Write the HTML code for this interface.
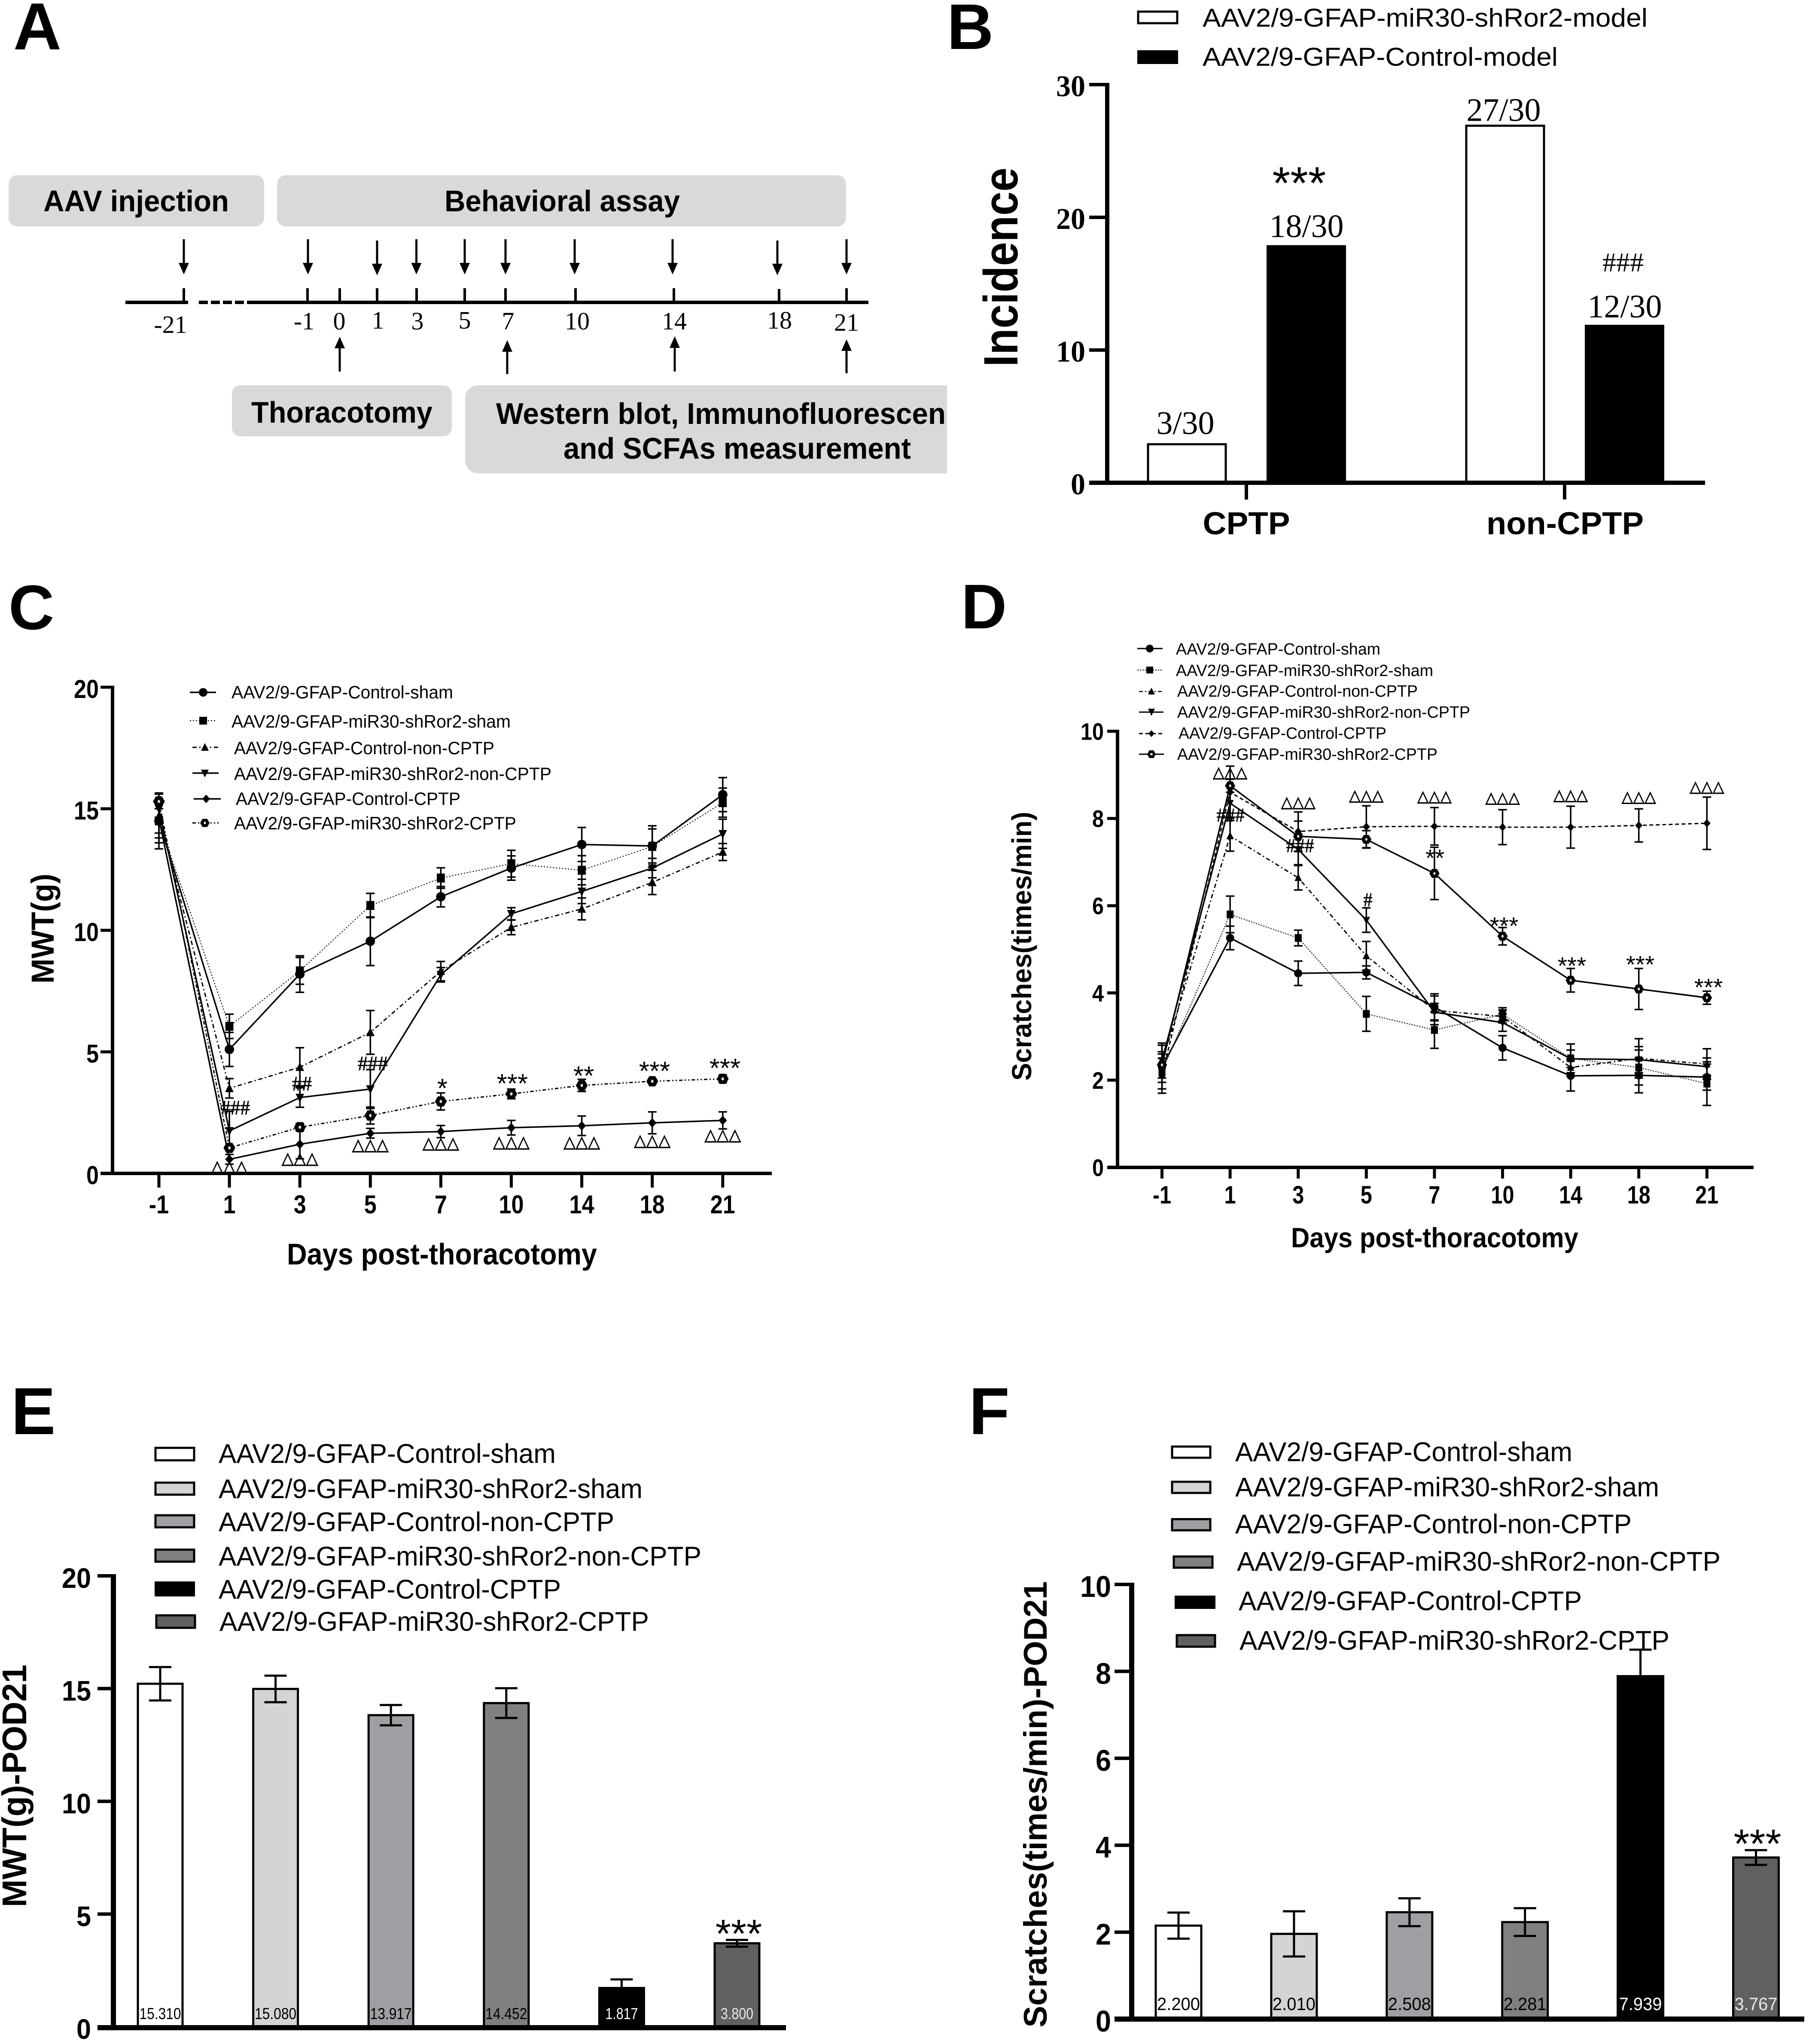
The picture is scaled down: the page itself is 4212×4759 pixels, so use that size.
<!DOCTYPE html>
<html lang="en">
<head>
<meta charset="utf-8">
<title>AAV2/9-GFAP-miR30-shRor2 behavioural figure</title>
<style>
html,body{margin:0;padding:0;background:#fff}
svg{display:block}
.s{font-family:"Liberation Sans",sans-serif;fill:#000}
.b{font-family:"Liberation Sans",sans-serif;font-weight:700;fill:#000}
.t{font-family:"Liberation Serif",serif;fill:#000}
.h{font-family:"Liberation Serif",serif;fill:#000;stroke:#000;stroke-width:.8}
.tb{font-family:"Liberation Serif",serif;font-weight:700;fill:#000}
.tri{font-family:"Noto Sans CJK SC","Liberation Sans",sans-serif;fill:#000;stroke:#000;stroke-width:2}
</style>
</head>
<body>
<svg id="figure" xmlns="http://www.w3.org/2000/svg" width="4212" height="4759" viewBox="0 0 4212 4759">
<rect width="4212" height="4759" fill="#fff"/>

<!-- panel letters -->
<text class="b" x="31" y="115" font-size="155">A</text>
<text class="b" x="2205" y="114" font-size="150">B</text>
<text class="b" x="20" y="1465" font-size="147">C</text>
<text class="b" x="2238" y="1463" font-size="147">D</text>
<text class="b" x="26" y="3339" font-size="155">E</text>
<text class="b" x="2256" y="3339" font-size="155">F</text>

<!-- panel A timeline -->
<g>
<defs><clipPath id="clipA"><rect x="0" y="0" width="2205" height="1200"/></clipPath></defs>
<rect x="20" y="408" width="595" height="119" rx="20" fill="#d9d9d9"/>
<text class="b" x="101" y="492" font-size="70" textLength="432" lengthAdjust="spacingAndGlyphs">AAV injection</text>
<rect x="645" y="408" width="1325" height="119" rx="20" fill="#d9d9d9"/>
<text class="b" x="1035" y="492" font-size="70" textLength="548" lengthAdjust="spacingAndGlyphs">Behavioral assay</text>
<rect x="540" y="897" width="512" height="119" rx="20" fill="#d9d9d9"/>
<text class="b" x="585" y="984" font-size="70" textLength="422" lengthAdjust="spacingAndGlyphs">Thoracotomy</text>
<g clip-path="url(#clipA)">
<rect x="1083" y="897" width="1300" height="205" rx="30" fill="#d9d9d9"/>
<text class="b" x="1155" y="987" font-size="70" textLength="1047" lengthAdjust="spacingAndGlyphs">Western blot, Immunofluorescen</text>
<text class="b" x="1312" y="1068" font-size="70" textLength="809" lengthAdjust="spacingAndGlyphs">and SCFAs measurement</text>
</g>
<path d="M292 704H438M575 704H2022" stroke="#000" stroke-width="8" fill="none"/>
<path d="M463 704H568" stroke="#000" stroke-width="8" stroke-dasharray="21 7" fill="none"/>
<path d="M428 671V700M716 671V700M791 671V700M878 671V700M970 671V700M1082 671V700M1177 671V700M1340 671V700M1569 671V700M1814 673V700M1971 671V700" stroke="#000" stroke-width="6" fill="none"/>
<g font-size="58" text-anchor="middle">
<text class="t" x="397" y="775">-21</text>
<text class="t" x="708" y="767">-1</text>
<text class="t" x="790" y="767">0</text>
<text class="t" x="880" y="765">1</text>
<text class="t" x="972" y="767">3</text>
<text class="t" x="1082" y="765">5</text>
<text class="t" x="1183" y="767">7</text>
<text class="t" x="1344" y="767">10</text>
<text class="t" x="1570" y="767">14</text>
<text class="t" x="1815" y="765">18</text>
<text class="t" x="1971" y="770">21</text>
</g>
<g fill="#000">
<path d="M425.5 557h5v55h9.5l-12 27-12-27h9.5z"/>
<path d="M714.5 557h5v55h9.5l-12 27-12-27h9.5z"/>
<path d="M875.5 560h5v54h9.5l-12 27-12-27h9.5z"/>
<path d="M967 557h5v55h9.5l-12 27-12-27h9.5z"/>
<path d="M1079.5 557h5v55h9.5l-12 27-12-27h9.5z"/>
<path d="M1174.5 557h5v55h9.5l-12 27-12-27h9.5z"/>
<path d="M1335.5 557h5v55h9.5l-12 27-12-27h9.5z"/>
<path d="M1563.5 557h5v55h9.5l-12 27-12-27h9.5z"/>
<path d="M1807.5 560h5v54h9.5l-12 27-12-27h9.5z"/>
<path d="M1968.5 557h5v55h9.5l-12 27-12-27h9.5z"/>
<path d="M788.5 865h5v-54h9.5l-12-27-12 27h9.5z"/>
<path d="M1178.5 871h5v-52h9.5l-12-27-12 27h9.5z"/>
<path d="M1568.5 865h5v-55h9.5l-12-27-12 27h9.5z"/>
<path d="M1968.5 869h5v-52h9.5l-12-27-12 27h9.5z"/>
</g>
</g>

<!-- panel B static -->
<g>
<rect x="2650" y="27" width="91" height="27" fill="#fff" stroke="#000" stroke-width="5"/>
<text class="s" x="2800" y="62" font-size="60" textLength="1036" lengthAdjust="spacingAndGlyphs">AAV2/9-GFAP-miR30-shRor2-model</text>
<rect x="2648" y="117" width="95" height="32" fill="#000"/>
<text class="s" x="2800" y="153" font-size="60" textLength="827" lengthAdjust="spacingAndGlyphs">AAV2/9-GFAP-Control-model</text>
</g>
<text class="b" transform="translate(2369,622) rotate(-90)" text-anchor="middle" font-size="112" textLength="464" lengthAdjust="spacingAndGlyphs">Incidence</text>
<text class="s" x="3025" y="463" text-anchor="middle" font-size="107">***</text>
<text class="t" x="3779" y="632" text-anchor="middle" font-size="64">###</text>
<g id="chartB"></g>

<!-- panel C static -->
<g fill="#000">
<line x1="442" x2="503" y1="1612" y2="1612" stroke="#000" stroke-width="3.5"/>
<circle cx="473" cy="1612" r="10"/>
<text class="s" x="539" y="1626" font-size="42" textLength="516" lengthAdjust="spacingAndGlyphs">AAV2/9-GFAP-Control-sham</text>
<line x1="442" x2="503" y1="1678" y2="1678" stroke="#000" stroke-width="2" stroke-dasharray="3 4"/>
<rect x="464" y="1669" width="18" height="18"/>
<text class="s" x="539" y="1694" font-size="42" textLength="650" lengthAdjust="spacingAndGlyphs">AAV2/9-GFAP-miR30-shRor2-sham</text>
<line x1="448" x2="509" y1="1740" y2="1740" stroke="#000" stroke-width="3" stroke-dasharray="10 6 3 6"/>
<polygon points="477,1730 486,1748 468,1748"/>
<text class="s" x="545" y="1756" font-size="42" textLength="606" lengthAdjust="spacingAndGlyphs">AAV2/9-GFAP-Control-non-CPTP</text>
<line x1="448" x2="509" y1="1800" y2="1800" stroke="#000" stroke-width="3.5"/>
<polygon points="477,1810 468,1792 486,1792"/>
<text class="s" x="545" y="1816" font-size="42" textLength="739" lengthAdjust="spacingAndGlyphs">AAV2/9-GFAP-miR30-shRor2-non-CPTP</text>
<line x1="451" x2="514" y1="1860" y2="1860" stroke="#000" stroke-width="3.5"/>
<polygon points="480,1850 489,1860 480,1870 471,1860"/>
<text class="s" x="549" y="1874" font-size="42" textLength="523" lengthAdjust="spacingAndGlyphs">AAV2/9-GFAP-Control-CPTP</text>
<line x1="448" x2="509" y1="1916" y2="1916" stroke="#000" stroke-width="3" stroke-dasharray="8 5 3 5 3 5"/>
<polygon points="466,1916 471.5,1906.5 482.5,1906.5 488,1916 482.5,1925.5 471.5,1925.5"/>
<ellipse cx="477" cy="1916" rx="2.5" ry="3" fill="#fff"/>
<text class="s" x="545" y="1931" font-size="42" textLength="657" lengthAdjust="spacingAndGlyphs">AAV2/9-GFAP-miR30-shRor2-CPTP</text>
</g>
<text class="b" transform="translate(125,2162) rotate(-90)" text-anchor="middle" font-size="74" textLength="256" lengthAdjust="spacingAndGlyphs">MWT(g)</text>
<text class="b" x="668" y="2944" font-size="70" textLength="722" lengthAdjust="spacingAndGlyphs">Days post-thoracotomy</text>
<g id="chartC"></g>
<g text-anchor="middle">
<text class="h" x="548" y="2595" font-size="48" textLength="68" lengthAdjust="spacingAndGlyphs">###</text>
<text class="h" x="703" y="2539" font-size="48" textLength="46" lengthAdjust="spacingAndGlyphs">##</text>
<text class="h" x="868" y="2492" font-size="48" textLength="70" lengthAdjust="spacingAndGlyphs">###</text>
<text class="s" x="1030" y="2555" font-size="62">*</text>
<text class="s" x="1193" y="2544" font-size="62">***</text>
<text class="s" x="1359" y="2526" font-size="62">**</text>
<text class="s" x="1524" y="2515" font-size="62">***</text>
<text class="s" x="1688" y="2508" font-size="62">***</text>
</g>

<!-- panel D static -->
<g fill="#000">
<line x1="2648" x2="2707" y1="1510" y2="1510" stroke="#000" stroke-width="3"/>
<circle cx="2677" cy="1510" r="9"/>
<text class="s" x="2738" y="1524" font-size="38" textLength="476" lengthAdjust="spacingAndGlyphs">AAV2/9-GFAP-Control-sham</text>
<line x1="2648" x2="2707" y1="1560" y2="1560" stroke="#333" stroke-width="2.5" stroke-dasharray="3 3"/>
<rect x="2669" y="1552" width="16" height="16"/>
<text class="s" x="2738" y="1574" font-size="38" textLength="599" lengthAdjust="spacingAndGlyphs">AAV2/9-GFAP-miR30-shRor2-sham</text>
<line x1="2652" x2="2709" y1="1610" y2="1610" stroke="#000" stroke-width="2.5" stroke-dasharray="9 5 3 5"/>
<polygon points="2681,1601 2689,1617 2673,1617"/>
<text class="s" x="2741" y="1622" font-size="38" textLength="560" lengthAdjust="spacingAndGlyphs">AAV2/9-GFAP-Control-non-CPTP</text>
<line x1="2652" x2="2709" y1="1658" y2="1658" stroke="#000" stroke-width="3"/>
<polygon points="2681,1667 2673,1650 2689,1650"/>
<text class="s" x="2741" y="1671" font-size="38" textLength="682" lengthAdjust="spacingAndGlyphs">AAV2/9-GFAP-miR30-shRor2-non-CPTP</text>
<line x1="2652" x2="2711" y1="1708" y2="1708" stroke="#000" stroke-width="3" stroke-dasharray="9 6"/>
<polygon points="2681,1700 2688,1708 2681,1716 2674,1708"/>
<text class="s" x="2744" y="1720" font-size="38" textLength="484" lengthAdjust="spacingAndGlyphs">AAV2/9-GFAP-Control-CPTP</text>
<line x1="2652" x2="2710" y1="1756" y2="1756" stroke="#000" stroke-width="3"/>
<polygon points="2671,1756 2676,1747 2686,1747 2691,1756 2686,1765 2676,1765"/>
<ellipse cx="2681" cy="1756" rx="3" ry="2.5" fill="#fff"/>
<text class="s" x="2741" y="1769" font-size="38" textLength="606" lengthAdjust="spacingAndGlyphs">AAV2/9-GFAP-miR30-shRor2-CPTP</text>
</g>
<text class="b" transform="translate(2401,2203) rotate(-90)" text-anchor="middle" font-size="64" textLength="626" lengthAdjust="spacingAndGlyphs">Scratches(times/min)</text>
<text class="b" x="3006" y="2904" font-size="65" textLength="669" lengthAdjust="spacingAndGlyphs">Days post-thoracotomy</text>
<g id="chartD"></g>
<g text-anchor="middle">
<text class="h" x="2865" y="1913" font-size="46" textLength="65" lengthAdjust="spacingAndGlyphs">###</text>
<text class="h" x="3027" y="1984" font-size="46" textLength="65" lengthAdjust="spacingAndGlyphs">###</text>
<text class="h" x="3185" y="2110" font-size="46" textLength="21" lengthAdjust="spacingAndGlyphs">#</text>
<text class="s" x="3341" y="2017" font-size="57">**</text>
<text class="s" x="3502" y="2175" font-size="57">***</text>
<text class="s" x="3660" y="2268" font-size="57">***</text>
<text class="s" x="3819" y="2265" font-size="57">***</text>
<text class="s" x="3978" y="2318" font-size="57">***</text>
</g>

<!-- panel E static -->
<g>
<rect x="362" y="3371" width="90" height="29" fill="#fff" stroke="#000" stroke-width="5"/>
<rect x="362" y="3452" width="90" height="28" fill="#d4d4d4" stroke="#000" stroke-width="5"/>
<rect x="362" y="3528" width="90" height="28" fill="#a0a0a4" stroke="#000" stroke-width="5"/>
<rect x="362" y="3608" width="90" height="28" fill="#808080" stroke="#000" stroke-width="5"/>
<rect x="360" y="3682" width="94" height="35" fill="#000"/>
<rect x="364" y="3761" width="90" height="29" fill="#606060" stroke="#000" stroke-width="5"/>
<text class="s" x="509" y="3406" font-size="63" textLength="785" lengthAdjust="spacingAndGlyphs">AAV2/9-GFAP-Control-sham</text>
<text class="s" x="509" y="3488" font-size="63" textLength="987" lengthAdjust="spacingAndGlyphs">AAV2/9-GFAP-miR30-shRor2-sham</text>
<text class="s" x="509" y="3565" font-size="63" textLength="921" lengthAdjust="spacingAndGlyphs">AAV2/9-GFAP-Control-non-CPTP</text>
<text class="s" x="509" y="3645" font-size="63" textLength="1124" lengthAdjust="spacingAndGlyphs">AAV2/9-GFAP-miR30-shRor2-non-CPTP</text>
<text class="s" x="509" y="3722" font-size="63" textLength="797" lengthAdjust="spacingAndGlyphs">AAV2/9-GFAP-Control-CPTP</text>
<text class="s" x="511" y="3797" font-size="63" textLength="1000" lengthAdjust="spacingAndGlyphs">AAV2/9-GFAP-miR30-shRor2-CPTP</text>
</g>
<text class="b" transform="translate(61,4158) rotate(-90)" text-anchor="middle" font-size="80" textLength="565" lengthAdjust="spacingAndGlyphs">MWT(g)-POD21</text>
<g id="chartE"></g>
<text class="s" x="1720" y="4534" text-anchor="middle" font-size="93">***</text>

<!-- panel F static -->
<g>
<rect x="2729" y="3368" width="89" height="26" fill="#fff" stroke="#000" stroke-width="5"/>
<rect x="2729" y="3450" width="89" height="26" fill="#d4d4d4" stroke="#000" stroke-width="5"/>
<rect x="2729" y="3537" width="89" height="26" fill="#a0a0a4" stroke="#000" stroke-width="5"/>
<rect x="2733" y="3624" width="90" height="26" fill="#808080" stroke="#000" stroke-width="5"/>
<rect x="2735" y="3715" width="95" height="31" fill="#000"/>
<rect x="2740" y="3807" width="89" height="27" fill="#606060" stroke="#000" stroke-width="5"/>
<text class="s" x="2876" y="3402" font-size="63" textLength="785" lengthAdjust="spacingAndGlyphs">AAV2/9-GFAP-Control-sham</text>
<text class="s" x="2876" y="3484" font-size="63" textLength="987" lengthAdjust="spacingAndGlyphs">AAV2/9-GFAP-miR30-shRor2-sham</text>
<text class="s" x="2876" y="3570" font-size="63" textLength="923" lengthAdjust="spacingAndGlyphs">AAV2/9-GFAP-Control-non-CPTP</text>
<text class="s" x="2880" y="3657" font-size="63" textLength="1126" lengthAdjust="spacingAndGlyphs">AAV2/9-GFAP-miR30-shRor2-non-CPTP</text>
<text class="s" x="2884" y="3749" font-size="63" textLength="799" lengthAdjust="spacingAndGlyphs">AAV2/9-GFAP-Control-CPTP</text>
<text class="s" x="2886" y="3841" font-size="63" textLength="1001" lengthAdjust="spacingAndGlyphs">AAV2/9-GFAP-miR30-shRor2-CPTP</text>
</g>
<text class="b" transform="translate(2437,4201) rotate(-90)" text-anchor="middle" font-size="76" textLength="1039" lengthAdjust="spacingAndGlyphs">Scratches(times/min)-POD21</text>
<g id="chartF"></g>
<text class="s" x="4092" y="4325" text-anchor="middle" font-size="95">***</text>
</svg>

<script>
// ---------- data: shared categories ----------
const dayCategories = ['-1','1','3','5','7','10','14','18','21'];

// ---------- data: panel B ----------
const incidenceGroups = ['CPTP','non-CPTP'];
const incidenceTicks = [0,10,20,30];
const incidenceMir30 = [3,27];
const incidenceControl = [18,12];
const incidenceTotal = 30;

// ---------- data: panel C (MWT, g) ----------
const mwtTicks = [0,5,10,15,20];
const mwtControlSham = [14.5,5.1,8.2,9.55,11.38,12.56,13.53,13.47,15.58];
const mwtControlShamErr = [1.15,.7,.75,1.0,.42,.5,.7,.7,.7];
const mwtMirSham = [14.5,6.05,8.33,11.02,12.15,12.74,12.47,13.45,15.25];
const mwtMirShamErr = [.9,.5,.55,.5,.42,.55,.6,.85,.6];
const mwtControlNon = [14.7,3.5,4.37,5.8,8.32,10.12,10.88,11.97,13.22];
const mwtControlNonErr = [.7,.4,.8,.9,.4,.3,.45,.5,.35];
const mwtMirNon = [15.0,1.75,3.12,3.47,8.17,10.68,11.6,12.56,13.97];
const mwtMirNonErr = [.35,.8,.4,.8,.3,.25,.5,.4,.6];
const mwtControlCptp = [14.6,.58,1.2,1.65,1.72,1.88,1.96,2.08,2.18];
const mwtControlCptpErr = [.8,.2,.6,.2,.25,.3,.4,.45,.35];
const mwtMirCptp = [15.3,1.05,1.9,2.38,2.96,3.27,3.62,3.79,3.89];
const mwtMirCptpErr = [.3,.1,.15,.35,.35,.2,.25,.1,.15];
const mwtTriangleLevels = [-.05,.28,.84,.91,.95,.95,1.02,1.25];

// ---------- data: panel D (scratches/min) ----------
const scrTicks = [0,2,4,6,8,10];
const scrControlSham = [2.3,5.26,4.45,4.47,3.68,2.74,2.1,2.11,2.07];
const scrControlShamErr = [.5,.27,.28,.15,.3,.28,.35,.4,.3];
const scrMirSham = [2.2,5.8,5.26,3.52,3.15,3.51,2.5,2.29,1.92];
const scrMirShamErr = [.4,.42,.18,.4,.42,.15,.33,.4,.5];
const scrControlNon = [2.4,7.6,6.64,4.85,3.6,3.46,2.29,2.5,2.37];
const scrControlNonErr = [.45,.35,.28,.33,.33,.15,.2,.45,.35];
const scrMirNon = [2.45,8.35,7.29,5.67,3.56,3.32,2.49,2.47,2.31];
const scrMirNonErr = [.4,.4,.35,.28,.2,.2,.2,.3,.2];
const scrControlCptp = [2.1,8.6,7.7,7.81,7.82,7.8,7.8,7.84,7.89];
const scrControlCptpErr = [.4,.6,.45,.48,.43,.4,.48,.38,.6];
const scrMirCptp = [2.35,8.75,7.59,7.52,6.74,5.3,4.29,4.09,3.89];
const scrMirCptpErr = [.3,.15,.35,.2,.6,.2,.27,.47,.15];
const scrTriangleLevels = [8.88,8.2,8.35,8.33,8.3,8.36,8.32,8.55];

// ---------- data: panel E ----------
const podTicksE = [0,5,10,15,20];
const podMwtValues = [15.31,15.08,13.917,14.452,1.817,3.8];
const podMwtErr = [.74,.59,.45,.66,.38,.15];

// ---------- data: panel F ----------
const podTicksF = [0,2,4,6,8,10];
const podScrValues = [2.2,2.01,2.508,2.281,7.939,3.767];
const podScrErr = [.3,.52,.32,.32,.61,.17];

// ---------- styling (kept apart from the data) ----------
const barFills = ['#fff','#d4d4d4','#a0a0a4','#808080','#000','#606060'];
const barInk = ['#000','#000','#000','#000','#fff','#e8e8e8'];
const mwtSeries = [
 {name:'control-sham',v:mwtControlSham,e:mwtControlShamErr,m:'circle',dash:'',w:3.5,c:'#000'},
 {name:'mir30-sham',v:mwtMirSham,e:mwtMirShamErr,m:'square',dash:'3 4',w:2,c:'#000'},
 {name:'control-non-cptp',v:mwtControlNon,e:mwtControlNonErr,m:'up',dash:'10 6 3 6',w:3,c:'#000'},
 {name:'mir30-non-cptp',v:mwtMirNon,e:mwtMirNonErr,m:'down',dash:'',w:3.5,c:'#000'},
 {name:'control-cptp',v:mwtControlCptp,e:mwtControlCptpErr,m:'diamond',dash:'',w:3.5,c:'#000'},
 {name:'mir30-cptp',v:mwtMirCptp,e:mwtMirCptpErr,m:'hex',dash:'8 5 3 5 3 5',w:3,c:'#000'}
];
const scrSeries = [
 {name:'control-sham',v:scrControlSham,e:scrControlShamErr,m:'circle',dash:'',w:3.5,c:'#000'},
 {name:'mir30-sham',v:scrMirSham,e:scrMirShamErr,m:'square',dash:'3 3',w:2.5,c:'#333'},
 {name:'control-non-cptp',v:scrControlNon,e:scrControlNonErr,m:'up',dash:'10 6 3 6',w:3,c:'#000'},
 {name:'mir30-non-cptp',v:scrMirNon,e:scrMirNonErr,m:'down',dash:'',w:3.5,c:'#000'},
 {name:'control-cptp',v:scrControlCptp,e:scrControlCptpErr,m:'diamond',dash:'9 6',w:3,c:'#000'},
 {name:'mir30-cptp',v:scrMirCptp,e:scrMirCptpErr,m:'hex',dash:'',w:3.5,c:'#000'}
];

// ---------- axis functions ----------
const xB = i => 2902 + i * 741;
const yB = v => 1124 - v * 30.9;
const xC = i => 370 + i * 164.1;
const yC = v => 2732 - v * 56.6;
const xD = i => 2705.5 + i * 158.6;
const yD = v => 2718 - v * 101.55;
const xE = i => 373 + i * 268.6;
const yE = v => 4719 - v * 52.5;
const xF = i => 2744 + i * 268.9;
const yF = v => 4701 - v * 101.2;

// ---------- drawing helpers ----------
const NS = 'http://www.w3.org/2000/svg';
function make(tag, attrs, parent, text) {
  const n = document.createElementNS(NS, tag);
  for (const k in attrs) n.setAttribute(k, attrs[k]);
  if (text !== undefined) n.textContent = text;
  parent.appendChild(n);
  return n;
}
function numberWidth(s, digit) {
  const digits = s.replace('-', '').length;
  return digits * digit + (s.indexOf('-') >= 0 ? digit * .6 : 0);
}
function yAxis(g, ticks, y, cfg) {
  const axis = make('line', {x1:cfg.x, x2:cfg.x, y1:y(ticks[ticks.length-1]) - cfg.tickW/2, y2:y(ticks[0]) + cfg.sw/2, stroke:'#000', 'stroke-width':cfg.sw}, g);
  
  
  ticks.forEach(t => {
    const tk = make('line', {x1:cfg.tickL, x2:cfg.x, y1:y(t), y2:y(t), stroke:'#000', 'stroke-width':cfg.tickW}, g);
    
    
    const s = String(t);
    const lb = make('text', {x:cfg.labelR, y:y(t) + cfg.dy, 'text-anchor':'end', 'font-size':cfg.size, class:cfg.cls, textLength:numberWidth(s, cfg.digit), lengthAdjust:'spacingAndGlyphs'}, g, s);
    
    
  });
}
function xAxis(g, n, x, cfg) {
  const axis = make('line', {x1:cfg.x1, x2:cfg.x2, y1:cfg.y, y2:cfg.y, stroke:'#000', 'stroke-width':cfg.sw}, g);
  
  
  for (let i = 0; i < n; i++) {
    const tk = make('line', {x1:x(i), x2:x(i), y1:cfg.y, y2:cfg.tickB, stroke:'#000', 'stroke-width':cfg.tickW}, g);
    
    
  }
}
function errorBar(g, x, yHi, yLo, cap, sw) {
  const d = 'M' + (x-cap) + ' ' + yHi + 'H' + (x+cap) + 'M' + x + ' ' + yHi + 'V' + yLo + 'M' + (x-cap) + ' ' + yLo + 'H' + (x+cap);
  const p = make('path', {d:d, stroke:'#000', 'stroke-width':sw, fill:'none'}, g);
  
  
}
function marker(g, kind, x, y, r) {
  let n;
  if (kind === 'circle') n = make('circle', {cx:x, cy:y, r:r, fill:'#000'}, g);
  else if (kind === 'square') n = make('rect', {x:x-r*.85, y:y-r*.95, width:r*1.7, height:r*1.9, fill:'#000'}, g);
  else if (kind === 'up') n = make('polygon', {points:[x,y-r*1.05,x+r*.9,y+r*.8,x-r*.9,y+r*.8].join(' '), fill:'#000'}, g);
  else if (kind === 'down') n = make('polygon', {points:[x,y+r*1.05,x+r*.9,y-r*.8,x-r*.9,y-r*.8].join(' '), fill:'#000'}, g);
  else if (kind === 'diamond') n = make('polygon', {points:[x,y-r,x+r*.9,y,x,y+r,x-r*.9,y].join(' '), fill:'#000'}, g);
  else {
    const a = r * 1.25;
    n = make('polygon', {points:[x-a,y,x-a/2,y-a*.87,x+a/2,y-a*.87,x+a,y,x+a/2,y+a*.87,x-a/2,y+a*.87].join(' '), fill:'#000'}, g);
    const dot = make('ellipse', {cx:x, cy:y, rx:r*.28, ry:r*.34, fill:'#ddd'}, g);
    
    
  }
  
  
}
function lineChart(g, series, x, y, r, cap) {
  series.forEach(s => {
    const sg = make('g', {}, g);
    
    
    s.v.forEach((v, i) => errorBar(sg, x(i), y(v + s.e[i]), y(v - s.e[i]), cap, 3.5));
    const pts = s.v.map((v, i) => x(i) + ',' + y(v)).join(' ');
    const pl = make('polyline', {points:pts, fill:'none', stroke:s.c, 'stroke-width':s.w, 'stroke-dasharray':s.dash}, sg);
    
    
    s.v.forEach((v, i) => marker(sg, s.m, x(i), y(v), r));
  });
}
function triangles(g, levels, x, y, size, width) {
  levels.forEach((lv, i) => {
    const t = make('text', {x:x(i+1), y:y(lv) - 2, 'text-anchor':'middle', 'font-size':size, class:'tri', textLength:width, lengthAdjust:'spacingAndGlyphs'}, g, '△△△');
    
    
  });
}
function dayLabels(g, x, baseline, size, digit) {
  dayCategories.forEach((c, i) => {
    const t = make('text', {x:x(i), y:baseline, 'text-anchor':'middle', 'font-size':size, class:'b', textLength:numberWidth(c, digit), lengthAdjust:'spacingAndGlyphs'}, g, c);
    
    
  });
}
function barChart(g, values, errs, x, y, cfg) {
  values.forEach((v, i) => {
    const top = y(v) + cfg.nudge;
    const r = make('rect', {x:x(i)-cfg.w/2, y:top, width:cfg.w, height:y(0)-top, fill:barFills[i], stroke:'#000', 'stroke-width':cfg.sw}, g);
    
    
    errorBar(g, x(i), y(v + errs[i]) + cfg.nudge, y(v - errs[i]) + cfg.nudge, cfg.cap, 5);
    const s = v.toFixed(3);
    const t = make('text', {x:x(i), y:y(0) - cfg.labelUp, 'text-anchor':'middle', 'font-size':cfg.size, class:'s', textLength:cfg.len[s.length > 5 ? 1 : 0], lengthAdjust:'spacingAndGlyphs'}, g, s);
    t.setAttribute('fill', barInk[i]);
    t.style.fill = barInk[i];
    
    
  });
}

// ---------- panel B ----------
(function () {
  const g = document.getElementById('chartB');
  const lift = [[21,16],[8,14]];
  const labelWidths = [203,366];
  incidenceGroups.forEach((name, i) => {
    const a = make('rect', {x:xB(i)-229, y:yB(incidenceMir30[i])+3, width:181, height:yB(0)-yB(incidenceMir30[i])-3, fill:'#fff', stroke:'#000', 'stroke-width':5}, g);
    
    
    const b = make('rect', {x:xB(i)+47, y:yB(incidenceControl[i])+3, width:185, height:yB(0)-yB(incidenceControl[i])-3, fill:'#000'}, g);
    
    
    const ta = make('text', {x:xB(i)-142, y:yB(incidenceMir30[i])-lift[i][0], 'text-anchor':'middle', 'font-size':76, class:'t'}, g, incidenceMir30[i] + '/' + incidenceTotal);
    
    
    const tb = make('text', {x:xB(i)+140, y:yB(incidenceControl[i])-lift[i][1], 'text-anchor':'middle', 'font-size':76, class:'t'}, g, incidenceControl[i] + '/' + incidenceTotal);
    
    
    const lb = make('text', {x:xB(i) + (i ? 1 : 0), y:1244, 'text-anchor':'middle', 'font-size':74, class:'b', textLength:labelWidths[i], lengthAdjust:'spacingAndGlyphs'}, g, name);
    
    
  });
  yAxis(g, incidenceTicks, yB, {x:2578, tickL:2536, tickW:8, sw:10, labelR:2527, dy:27, size:70, digit:34, cls:'tb'});
  xAxis(g, incidenceGroups.length, xB, {x1:2536, x2:3970, y:1124, sw:10, tickB:1163, tickW:8});
})();

// ---------- panel C ----------
(function () {
  const g = document.getElementById('chartC');
  lineChart(g, mwtSeries, xC, yC, 11, 10);
  triangles(g, mwtTriangleLevels, xC, yC, 34, 85);
  yAxis(g, mwtTicks, yC, {x:262, tickL:234, tickW:7, sw:8, labelR:230, dy:25, size:60, digit:29, cls:'b'});
  xAxis(g, dayCategories.length, xC, {x1:234, x2:1797, y:2732, sw:8, tickB:2765, tickW:7});
  dayLabels(g, xC, 2825, 60, 29);
})();

// ---------- panel D ----------
(function () {
  const g = document.getElementById('chartD');
  lineChart(g, scrSeries, xD, yD, 9.5, 10);
  triangles(g, scrTriangleLevels, xD, yD, 32, 80);
  yAxis(g, scrTicks, yD, {x:2602, tickL:2578, tickW:7, sw:8, labelR:2570, dy:20, size:56, digit:27, cls:'b'});
  xAxis(g, dayCategories.length, xD, {x1:2578, x2:4083, y:2718, sw:8, tickB:2744, tickW:7});
  dayLabels(g, xD, 2802, 58, 27);
})();

// ---------- panel E ----------
(function () {
  const g = document.getElementById('chartE');
  barChart(g, podMwtValues, podMwtErr, xE, yE, {w:104, sw:5, cap:26, labelUp:18, size:37, len:[76,97], nudge:5});
  yAxis(g, podTicksE, yE, {x:264, tickL:227, tickW:8, sw:12, labelR:212, dy:28, size:66, digit:34, cls:'b'});
  xAxis(g, podMwtValues.length, xE, {x1:227, x2:1830, y:4721, sw:12, tickB:4721, tickW:0});
})();

// ---------- panel F ----------
(function () {
  const g = document.getElementById('chartF');
  barChart(g, podScrValues, podScrErr, xF, yF, {w:106, sw:5, cap:26, labelUp:21, size:42, len:[100,120], nudge:5});
  yAxis(g, podTicksF, yF, {x:2635, tickL:2595, tickW:8, sw:12, labelR:2587, dy:29, size:70, digit:36, cls:'b'});
  xAxis(g, podScrValues.length, xF, {x1:2595, x2:4201, y:4701, sw:12, tickB:4701, tickW:0});
})();
</script>
</body>
</html>
